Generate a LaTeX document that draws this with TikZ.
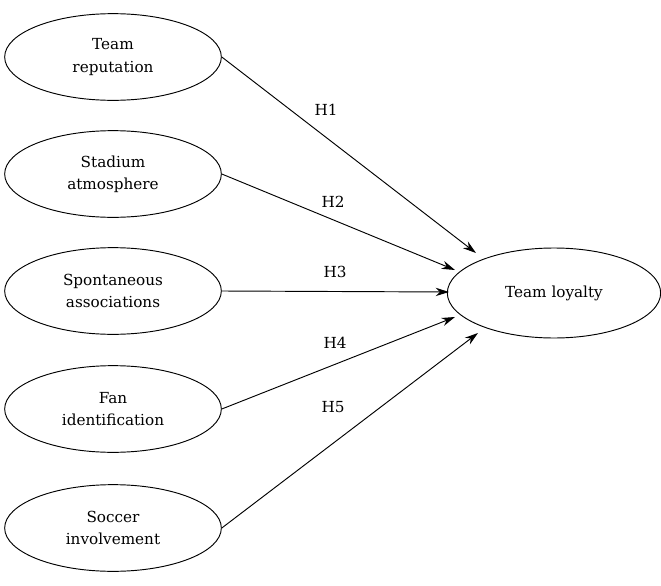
\documentclass[tikz,border=0pt]{standalone}
\usepackage{fontspec}
\setmainfont{DejaVu Serif}
\usetikzlibrary{arrows.meta,shapes.geometric}
\tikzset{
  construct/.style={ellipse,draw,thick,minimum width=6.5cm,minimum height=2.6cm,align=center,font=\fontsize{13}{19}\selectfont},
  path/.style={thick,-{Stealth[length=4mm,width=2.5mm]}},
  hyp/.style={font=\fontsize{13}{16}\selectfont}
}
\begin{document}
\begin{tikzpicture}[x=0.03cm,y=-0.03cm]
      \useasboundingbox (0,0) rectangle (661,586);

      \node[construct] (rep) at (113,57) {Team\\reputation};
      \node[construct] (atm) at (113,174) {Stadium\\atmosphere};
      \node[construct] (spo) at (113,291) {Spontaneous\\associations};
      \node[construct] (fan) at (113,409) {Fan\\identification};
      \node[construct] (inv) at (113,528) {Soccer\\involvement};
      \node[construct,minimum width=6.4cm,minimum height=2.7cm] (loy) at (554,293) {Team loyalty};

      \coordinate (e1) at (476,253);
      \coordinate (e2) at (455,270);
      \coordinate (e3) at (449,292);
      \coordinate (e4) at (455,317);
      \coordinate (e5) at (478,333);

      \draw[path] (rep.east) -- (e1);
      \draw[path] (atm.east) -- (e2);
      \draw[path] (spo.east) -- (e3);
      \draw[path] (fan.east) -- (e4);
      \draw[path] (inv.east) -- (e5);

      \node[hyp] (h1) at (326,110) {H1};
      \node[hyp] (h2) at (333,202) {H2};
      \node[hyp] (h3) at (335,272) {H3};
      \node[hyp] (h4) at (335,343) {H4};
      \node[hyp] (h5) at (333,407) {H5};
\end{tikzpicture}
\end{document}
